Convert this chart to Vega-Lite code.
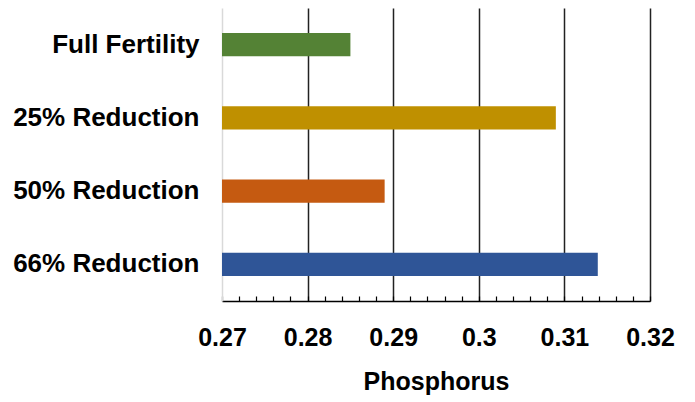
{
  "$schema": "https://vega.github.io/schema/vega-lite/v6.json",
  "autosize": "none",
  "width": 428,
  "height": 293,
  "padding": {"left": 222, "top": 8, "right": 45, "bottom": 101},
  "background": "white",
  "config": {
    "font": "Liberation Sans",
    "view": {"stroke": null}
  },
  "data": {
    "values": [
      {"treatment": "Full Fertility", "phosphorus": 0.285},
      {"treatment": "25% Reduction", "phosphorus": 0.309},
      {"treatment": "50% Reduction", "phosphorus": 0.289},
      {"treatment": "66% Reduction", "phosphorus": 0.3139}
    ]
  },
  "mark": {"type": "bar", "clip": true},
  "encoding": {
    "y": {
      "field": "treatment",
      "type": "nominal",
      "sort": null,
      "scale": {"paddingInner": 0.68, "paddingOuter": 0.34},
      "axis": {
        "title": null,
        "ticks": false,
        "domainColor": "#d9d9d9",
        "domainWidth": 1.5,
        "labelFontSize": 26,
        "labelFontWeight": "bold",
        "labelColor": "black",
        "labelPadding": 23,
        "labelLimit": 300
      }
    },
    "x": {
      "field": "phosphorus",
      "type": "quantitative",
      "scale": {"domain": [0.27, 0.32], "zero": false, "nice": false},
      "axis": {
        "title": "Phosphorus",
        "titleFontSize": 25,
        "titleFontWeight": "bold",
        "titleColor": "black",
        "titlePadding": 19,
        "values": [0.27, 0.272, 0.274, 0.276, 0.278, 0.28, 0.282, 0.284, 0.286, 0.288, 0.29, 0.292, 0.294, 0.296, 0.298, 0.3, 0.302, 0.304, 0.306, 0.308, 0.31, 0.312, 0.314, 0.316, 0.318, 0.32],
        "labelExpr": "abs(datum.value*100 - round(datum.value*100)) < 0.01 ? toString(round(datum.value*100)/100) : ''",
        "labelOverlap": false,
        "labelFlush": false,
        "labelBound": false,
        "labelFontSize": 25,
        "labelFontWeight": "bold",
        "labelColor": "black",
        "labelPadding": 29,
        "tickSize": -5,
        "tickColor": "black",
        "tickWidth": 1.2,
        "domainColor": "black",
        "domainWidth": 1.5,
        "grid": true,
        "gridColor": "#222222",
        "gridWidth": 1.5,
        "gridOpacity": {"condition": {"test": "abs(datum.value*100 - round(datum.value*100)) < 0.01 && datum.value > 0.271", "value": 1}, "value": 0}
      }
    },
    "x2": {"datum": 0.27},
    "color": {
      "field": "treatment",
      "type": "nominal",
      "sort": null,
      "scale": {
        "domain": ["Full Fertility", "25% Reduction", "50% Reduction", "66% Reduction"],
        "range": ["#548235", "#BF9000", "#C55A11", "#2F5597"]
      },
      "legend": null
    }
  }
}
